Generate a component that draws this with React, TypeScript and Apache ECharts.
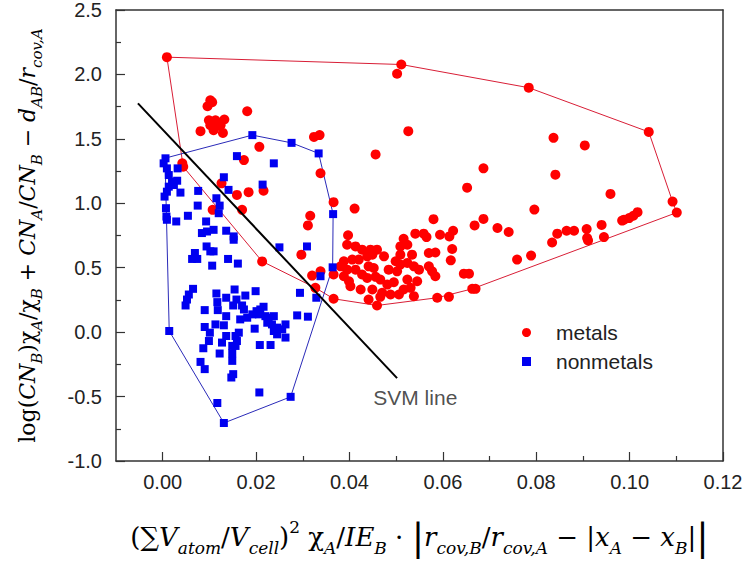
import React, { useEffect, useRef } from 'react';
import * as echarts from 'echarts';

const metals: number[][] = [
  [0.0009, 2.134], [0.0511, 2.077], [0.0502, 2.005], [0.0784, 1.897], [0.1041, 1.554],
  [0.1092, 1.013], [0.1101, 0.928],
  [0.0102, 1.799], [0.0096, 1.753], [0.0106, 1.785], [0.0181, 1.714],
  [0.0099, 1.644], [0.0113, 1.644], [0.0132, 1.65], [0.0102, 1.606], [0.0113, 1.593],
  [0.0124, 1.606], [0.0109, 1.567], [0.0081, 1.56], [0.0129, 1.546], [0.0117, 1.619],
  [0.0207, 1.438], [0.0174, 1.335], [0.0324, 1.515], [0.0336, 1.529], [0.0338, 1.233],
  [0.0042, 1.31], [0.0044, 1.284], [0.0126, 1.155], [0.0159, 1.065], [0.0184, 1.086],
  [0.0216, 1.098], [0.0107, 0.949], [0.017, 0.949], [0.0366, 1.009], [0.0316, 0.903],
  [0.0311, 0.828], [0.0411, 0.959], [0.0397, 0.752], [0.0526, 1.56], [0.0456, 1.379],
  [0.0837, 1.508], [0.0904, 1.449], [0.0687, 1.271], [0.0841, 1.222], [0.0652, 1.121],
  [0.0796, 0.951], [0.058, 0.877], [0.0687, 0.879], [0.0668, 0.828], [0.0717, 0.808],
  [0.0741, 0.777], [0.0516, 0.725], [0.0541, 0.764], [0.0559, 0.764], [0.0565, 0.738],
  [0.0594, 0.756], [0.0622, 0.787], [0.0614, 0.743], [0.0845, 0.764], [0.0865, 0.787],
  [0.0881, 0.787], [0.0908, 0.8], [0.094, 0.832], [0.0959, 1.073], [0.0988, 0.872],
  [0.0999, 0.885], [0.1008, 0.903], [0.1017, 0.931], [0.0984, 0.866], [0.0909, 0.73],
  [0.0945, 0.738], [0.0759, 0.563], [0.0789, 0.594], [0.0834, 0.696], [0.0911, 0.712],
  [0.0395, 0.678], [0.0413, 0.665], [0.0427, 0.64], [0.0509, 0.665], [0.0524, 0.678],
  [0.0445, 0.64], [0.0459, 0.64], [0.062, 0.645], [0.057, 0.614], [0.0584, 0.618],
  [0.0534, 0.601], [0.0509, 0.601], [0.0474, 0.588], [0.0438, 0.588], [0.0449, 0.601],
  [0.0617, 0.557], [0.0388, 0.55], [0.0406, 0.563], [0.042, 0.563], [0.0499, 0.55],
  [0.0509, 0.524], [0.0524, 0.537], [0.0441, 0.511], [0.0452, 0.498], [0.0381, 0.511],
  [0.0395, 0.485], [0.0413, 0.485], [0.0538, 0.511], [0.0549, 0.485], [0.057, 0.511],
  [0.0577, 0.472], [0.0584, 0.434], [0.0645, 0.454], [0.0656, 0.454], [0.0484, 0.485],
  [0.0502, 0.472], [0.0366, 0.447], [0.0388, 0.434], [0.0427, 0.447], [0.0438, 0.421],
  [0.0456, 0.429], [0.0466, 0.408], [0.0399, 0.395], [0.0402, 0.356], [0.0481, 0.369],
  [0.0495, 0.387], [0.0524, 0.408], [0.0545, 0.395], [0.0424, 0.331], [0.0449, 0.331],
  [0.047, 0.305], [0.0488, 0.292], [0.0506, 0.292], [0.0516, 0.331], [0.0531, 0.344],
  [0.0663, 0.336], [0.067, 0.336], [0.0538, 0.279], [0.0588, 0.267], [0.0613, 0.274],
  [0.0366, 0.259], [0.0441, 0.253], [0.0459, 0.207], [0.0466, 0.274], [0.0338, 0.472],
  [0.0327, 0.344], [0.0213, 0.549], [0.0297, 0.601], [0.032, 0.439]
];

const nonmetals: number[][] = [
  [0.0192, 1.529], [0.0276, 1.469], [0.0334, 1.387], [0.0365, 0.916], [0.0006, 1.349],
  [0.0002, 1.31], [0.0009, 1.271], [0.0013, 1.219], [0.002, 1.168], [0.0032, 1.271],
  [0.0159, 1.366], [0.0238, 1.31], [0.0131, 1.202], [0.0141, 1.104], [0.0214, 1.145],
  [0.0031, 1.175], [0.0024, 1.142], [0.0013, 1.129], [0.0009, 1.09], [0.0038, 1.083],
  [0.0004, 1.052], [0.0076, 1.096], [0.0075, 0.982], [0.0115, 1.039], [0.0122, 0.982],
  [0.0007, 0.962], [0.0008, 0.897], [0.0009, 0.872], [0.0029, 0.859], [0.0054, 0.903],
  [0.012, 0.923], [0.0093, 0.859], [0.0084, 0.769], [0.0095, 0.781], [0.0109, 0.794],
  [0.0136, 0.787], [0.0152, 0.743], [0.0152, 0.717], [0.0094, 0.665], [0.0102, 0.627],
  [0.0109, 0.627], [0.0069, 0.614], [0.0063, 0.568], [0.0074, 0.568], [0.0106, 0.516],
  [0.014, 0.568], [0.0161, 0.532], [0.025, 0.658], [0.0309, 0.665], [0.0364, 0.503],
  [0.0338, 0.434], [0.0329, 0.267], [0.0294, 0.305], [0.0288, 0.13], [0.0311, 0.12],
  [0.0065, 0.336], [0.0056, 0.292], [0.0052, 0.253], [0.0049, 0.207], [0.009, 0.171],
  [0.0115, 0.3], [0.0136, 0.267], [0.0154, 0.331], [0.0158, 0.253], [0.0177, 0.284],
  [0.0199, 0.318], [0.0117, 0.233], [0.0118, 0.171], [0.0151, 0.207], [0.017, 0.207],
  [0.0174, 0.176], [0.0136, 0.124], [0.0166, 0.099], [0.0181, 0.112], [0.0192, 0.138],
  [0.0201, 0.163], [0.0209, 0.176], [0.0216, 0.197], [0.0206, 0.138], [0.022, 0.124],
  [0.0227, 0.112], [0.0238, 0.124], [0.0224, 0.073], [0.0234, 0.06], [0.0245, 0.035],
  [0.0238, 0.009], [0.0256, 0.022], [0.0263, 0.06], [0.0263, -0.042], [0.0245, -0.017],
  [0.009, 0.04], [0.0113, 0.06], [0.0131, 0.053], [0.0101, -0.004], [0.0099, -0.069],
  [0.0136, -0.03], [0.0156, -0.03], [0.0163, -0.004], [0.0127, -0.081], [0.0149, -0.107],
  [0.0156, -0.107], [0.0159, -0.069], [0.0197, 0.027], [0.0208, -0.1], [0.0231, -0.1],
  [0.0087, -0.125], [0.0122, -0.166], [0.0149, -0.164], [0.0149, -0.223], [0.0081, -0.231],
  [0.009, -0.287], [0.0147, -0.352], [0.0151, -0.326], [0.0207, -0.468], [0.0274, -0.502],
  [0.0117, -0.55], [0.0131, -0.705], [0.0014, 0.009]
];

const metalsHull: number[][] = [
  [0.0009, 2.134], [0.0511, 2.077], [0.0784, 1.897], [0.1041, 1.554], [0.1092, 1.013],
  [0.1101, 0.928], [0.0663, 0.336], [0.0588, 0.267], [0.0459, 0.207], [0.0366, 0.259],
  [0.0327, 0.344], [0.0213, 0.549], [0.0044, 1.284], [0.0009, 2.134]
];

const nonmetalsHull: number[][] = [
  [0.0005, 1.35], [0.0192, 1.529], [0.0276, 1.469], [0.0334, 1.387], [0.0365, 0.916],
  [0.0364, 0.503], [0.0274, -0.502], [0.0131, -0.705], [0.0014, 0.009], [0.0005, 1.35]
];

const svmLine: number[][] = [[-0.0053, 1.775], [0.0502, -0.357]];
const svmLabelPoint: number[][] = [[0.0451, -0.504]];

const xMajorTicks = [0, 0.02, 0.04, 0.06, 0.08, 0.1, 0.12];
const xMinorTicks = [0.01, 0.03, 0.05, 0.07, 0.09, 0.11];
const yMinorTicks = [-0.75, -0.25, 0.25, 0.75, 1.25, 1.75, 2.25];

const MATH = "'DejaVu Serif', 'Liberation Serif', serif";
const SANS = "'Liberation Sans', Arial, sans-serif";

function makeRich(fs: number, sub: number, lh: number, big: number) {
  return {
    n: { fontFamily: MATH, fontSize: fs, lineHeight: lh, color: '#000' },
    i: { fontFamily: MATH, fontSize: fs, lineHeight: lh, fontStyle: 'italic', color: '#000' },
    s: { fontFamily: MATH, fontSize: sub, lineHeight: sub, fontStyle: 'italic', verticalAlign: 'bottom', color: '#000' },
    p: { fontFamily: MATH, fontSize: sub, lineHeight: sub, verticalAlign: 'top', color: '#000' },
    b: { fontFamily: MATH, fontSize: big, lineHeight: lh, color: '#000' }
  };
}
const xRich = makeRich(26, 17, 38, 37);
const yRich = makeRich(22, 15, 34, 30);

const xName =
  '{n|(∑}{i|V}{s|atom}{n|/}{i|V}{s|cell}{n|)}{p|2}{n| χ}{s|A}{n|/}{i|IE}{s|B}{n| · }{b||}' +
  '{i|r}{s|cov,B}{n|/}{i|r}{s|cov,A}{n| − |}{i|x}{s|A}{n| − }{i|x}{s|B}{n||}{b||}';
const yName =
  '{n|log(}{i|CN}{s|B}{n|)χ}{s|A}{n|/χ}{s|B}{n| + }{i|CN}{s|A}{n|/}{i|CN}{s|B}{n| − }' +
  '{i|d}{s|AB}{n|/}{i|r}{s|cov,A}';

const axisColor = '#333';

const frameAxis = {
  type: 'value',
  axisLine: { show: true, onZero: false, lineStyle: { color: axisColor, width: 1.5 } },
  axisTick: { show: false },
  axisLabel: { show: false },
  splitLine: { show: false }
};

export default function App() {
  const ref = useRef<HTMLDivElement>(null);
  useEffect(() => {
    const chart = echarts.init(ref.current!, null, { renderer: 'svg' });
    chart.setOption({
      animation: false,
      backgroundColor: '#fff',
      grid: { left: 116, top: 10, width: 607, height: 452 },
      legend: {
        data: [
          { name: 'metals', icon: 'circle' },
          { name: 'nonmetals', icon: 'rect' }
        ],
        orient: 'vertical',
        left: 517,
        top: 317,
        itemWidth: 9,
        itemHeight: 9,
        itemGap: 8,
        textStyle: { fontFamily: SANS, fontSize: 21, color: '#222', padding: [0, 0, 0, 20] }
      },
      xAxis: [
        {
          type: 'value', min: -0.01, max: 0.12, position: 'bottom',
          axisLine: { show: true, onZero: false, lineStyle: { color: axisColor, width: 1.5 } },
          axisTick: { show: true, inside: true, length: 9, customValues: xMajorTicks, lineStyle: { color: axisColor, width: 1.2 } },
          axisLabel: {
            customValues: xMajorTicks, formatter: (v: number) => v.toFixed(2),
            fontFamily: SANS, fontSize: 20, color: '#222', margin: 11
          },
          splitLine: { show: false },
          name: xName, nameLocation: 'middle', nameGap: 57,
          nameTextStyle: { rich: xRich }
        },
        {
          type: 'value', min: -0.01, max: 0.12, position: 'bottom', offset: 0,
          axisLine: { show: false, onZero: false },
          axisTick: { show: true, inside: true, length: 5, customValues: xMinorTicks, lineStyle: { color: axisColor, width: 1.2 } },
          axisLabel: { show: false },
          splitLine: { show: false }
        },
        { ...frameAxis, min: -0.01, max: 0.12, position: 'top', offset: 0 }
      ],
      yAxis: [
        {
          type: 'value', min: -1, max: 2.5, interval: 0.5, position: 'left',
          axisLine: { show: true, onZero: false, lineStyle: { color: axisColor, width: 1.5 } },
          axisTick: { show: true, inside: true, length: 9, lineStyle: { color: axisColor, width: 1.2 } },
          axisLabel: {
            formatter: (v: number) => v.toFixed(1),
            fontFamily: SANS, fontSize: 20, color: '#222', margin: 14
          },
          splitLine: { show: false },
          name: yName, nameLocation: 'middle', nameGap: 72, nameRotate: 90,
          nameTextStyle: { rich: yRich }
        },
        {
          type: 'value', min: -1, max: 2.5, position: 'left', offset: 0,
          axisLine: { show: false, onZero: false },
          axisTick: { show: true, inside: true, length: 5, customValues: yMinorTicks, lineStyle: { color: axisColor, width: 1.2 } },
          axisLabel: { show: false },
          splitLine: { show: false }
        },
        { ...frameAxis, min: -1, max: 2.5, position: 'right', offset: 0 }
      ],
      series: [
        {
          name: 'metalsHull', type: 'line', data: metalsHull, symbol: 'none', silent: true,
          lineStyle: { color: '#d81e36', width: 1 }, z: 1
        },
        {
          name: 'nonmetalsHull', type: 'line', data: nonmetalsHull, symbol: 'none', silent: true,
          lineStyle: { color: '#2a2ab8', width: 1 }, z: 1
        },
        {
          name: 'metals', type: 'scatter', data: metals, symbol: 'circle', symbolSize: 10,
          itemStyle: { color: '#f00', opacity: 1 }, z: 3
        },
        {
          name: 'nonmetals', type: 'scatter', data: nonmetals, symbol: 'rect', symbolSize: 8,
          itemStyle: { color: '#0000f0', opacity: 1 }, z: 3
        },
        {
          name: 'SVM', type: 'line', data: svmLine, symbol: 'none', silent: true,
          lineStyle: { color: '#000', width: 2 }, z: 4
        },
        {
          name: 'SVMlabel', type: 'scatter', data: svmLabelPoint, symbolSize: 0, silent: true,
          label: {
            show: true, position: [0, 0], align: 'left', verticalAlign: 'middle',
            formatter: 'SVM line', fontFamily: SANS, fontSize: 21, color: '#222'
          },
          z: 4
        }
      ]
    });
    return () => chart.dispose();
  }, []);
  return <div ref={ref} style={{ position: 'fixed', left: 0, top: 0, width: 746, height: 561 }} />;
}
